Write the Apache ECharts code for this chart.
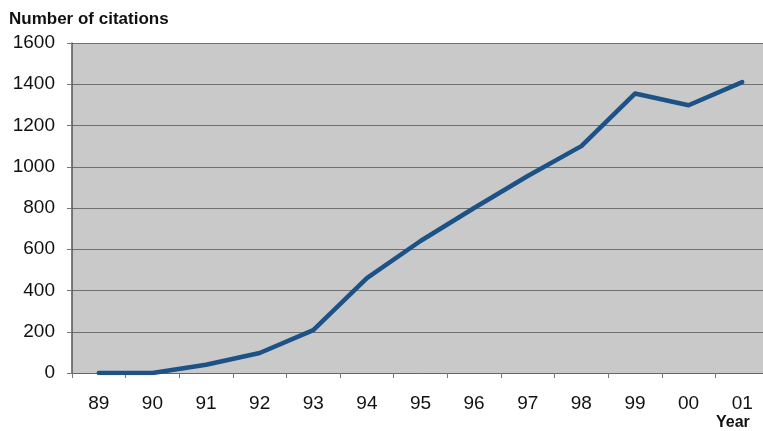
<!DOCTYPE html>
<html>
<head>
<meta charset="utf-8">
<style>
  html, body { margin: 0; padding: 0; background: #ffffff; }
  #chart { width: 763px; height: 431px; }
</style>
<script src="https://cdn.jsdelivr.net/npm/echarts@6/dist/echarts.min.js"></script>
</head>
<body>
<div id="chart"></div>
<script>
// Citations per year
const years = ['89', '90', '91', '92', '93', '94', '95', '96', '97', '98', '99', '00', '01'];
const citations = [0, 0, 40, 97, 208, 460, 640, 800, 955, 1100, 1355, 1298, 1410];
const yTicks = { min: 0, max: 1600, step: 200 };

const FONT = 'Liberation Sans, Arial, sans-serif';
const chart = echarts.init(document.getElementById('chart'), null, { renderer: 'canvas' });

chart.setOption({
  animation: false,
  backgroundColor: '#ffffff',
  textStyle: { fontFamily: FONT },
  grid: {
    left: 72, top: 43, bottom: 58, right: -6,
    containLabel: false,
    outerBoundsMode: 'none',
    show: true,
    backgroundColor: '#c9c9c9',
    borderWidth: 0
  },
  graphic: [
    {
      type: 'text', left: 9, top: 11,
      style: { text: 'Number of citations', fontSize: 17, fontWeight: 'bold', fill: '#111', fontFamily: FONT }
    },
    {
      type: 'text', left: 716, top: 415,
      style: { text: 'Year', fontSize: 16, fontWeight: 'bold', fill: '#111', fontFamily: FONT }
    }
  ],
  xAxis: {
    type: 'category',
    data: years,
    boundaryGap: true,
    axisLine: { show: true, lineStyle: { color: '#666', width: 1 } },
    axisTick: { show: true, length: 5, alignWithLabel: false, lineStyle: { color: '#777' } },
    axisLabel: { fontSize: 19, color: '#111', margin: 21 },
    splitLine: { show: false }
  },
  yAxis: {
    type: 'value',
    min: yTicks.min, max: yTicks.max, interval: yTicks.step,
    axisLine: { show: true, lineStyle: { color: '#555', width: 1.5 } },
    axisTick: { show: true, length: 5, lineStyle: { color: '#777' } },
    axisLabel: { fontSize: 19, color: '#111', margin: 17, formatter: v => String(v) },
    splitLine: { show: true, lineStyle: { color: '#707070', width: 1 } }
  },
  series: [{
    type: 'line',
    data: citations,
    symbol: 'none',
    lineStyle: { color: '#1d5287', width: 4.5, join: 'round', cap: 'round' },
    z: 3
  }]
});
</script>
</body>
</html>
